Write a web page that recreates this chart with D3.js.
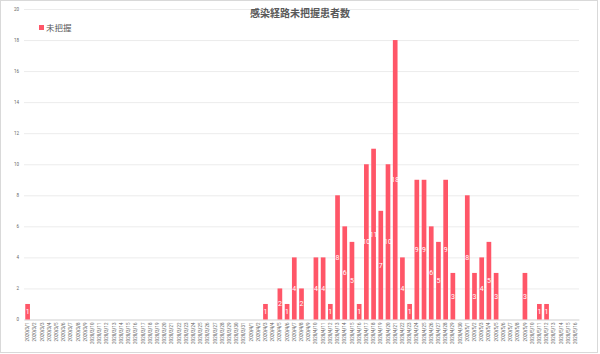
<!DOCTYPE html>
<html>
<head>
<meta charset="utf-8">
<script src="https://cdn.jsdelivr.net/npm/d3@7"></script>
<style>
  body { margin: 0; background: #fff; }
  text { font-family: "Noto Sans CJK JP", "Noto Sans", sans-serif; }
</style>
</head>
<body>
<div id="container"></div>
<script>
const title = "感染経路未把握患者数",
      seriesName = "未把握";

// dates 2020/3/1 .. 2020/5/16 (77 days)
const dates = [
  "2020/3/1","2020/3/2","2020/3/3","2020/3/4","2020/3/5","2020/3/6","2020/3/7","2020/3/8",
  "2020/3/9","2020/3/10","2020/3/11","2020/3/12","2020/3/13","2020/3/14","2020/3/15","2020/3/16",
  "2020/3/17","2020/3/18","2020/3/19","2020/3/20","2020/3/21","2020/3/22","2020/3/23","2020/3/24",
  "2020/3/25","2020/3/26","2020/3/27","2020/3/28","2020/3/29","2020/3/30","2020/3/31",
  "2020/4/1","2020/4/2","2020/4/3","2020/4/4","2020/4/5","2020/4/6","2020/4/7","2020/4/8",
  "2020/4/9","2020/4/10","2020/4/11","2020/4/12","2020/4/13","2020/4/14","2020/4/15","2020/4/16",
  "2020/4/17","2020/4/18","2020/4/19","2020/4/20","2020/4/21","2020/4/22","2020/4/23","2020/4/24",
  "2020/4/25","2020/4/26","2020/4/27","2020/4/28","2020/4/29","2020/4/30",
  "2020/5/1","2020/5/2","2020/5/3","2020/5/4","2020/5/5","2020/5/6","2020/5/7","2020/5/8",
  "2020/5/9","2020/5/10","2020/5/11","2020/5/12","2020/5/13","2020/5/14","2020/5/15","2020/5/16"
];

const counts = [
  1,0,0,0,0,0,0,0,0,0,
  0,0,0,0,0,0,0,0,0,0,
  0,0,0,0,0,0,0,0,0,0,
  0,0,0,1,0,2,1,4,2,0,
  4,4,1,8,6,5,1,10,11,7,
  10,18,4,1,9,9,6,5,9,3,
  0,8,3,4,5,3,0,0,0,3,
  0,1,1,0,0,0,0
];

const yTicks = [0,2,4,6,8,10,12,14,16,18,20];

const WIDTH = 600,
      HEIGHT = 354;

const margin = { top: 9, bottom: 34.5, left: 24, right: 21 };

const width = WIDTH - margin.left - margin.right,
      height = HEIGHT - margin.top - margin.bottom;

const svg = d3.select('#container').append('svg')
    .attr("width", WIDTH).attr("height", HEIGHT);

// chart frame
svg.append("rect")
    .attr("x", 0.5).attr("y", 0.5)
    .attr("width", WIDTH - 3).attr("height", HEIGHT - 2)
    .attr("fill", "#fff")
    .attr("stroke", "#d9d9d9");

const data = dates.map((d, i) => ({ date: d, value: counts[i] }));

const xScale = d3.scaleBand()
    .domain(dates)
    .range([0, width])
    .paddingInner(0.35)
    .paddingOuter(0.175);

const yScale = d3.scaleLinear()
    .domain([0, 20])
    .range([height, 0]);

const container = svg.append('g')
    .attr("transform", `translate(${margin.left}, ${margin.top})`);

// y axis + gridlines
const yAxis = d3.axisLeft(yScale).tickValues(yTicks).tickSize(-width).tickPadding(5);
const gy = container.append("g").call(yAxis);
gy.select(".domain").remove();
gy.selectAll("line").attr("stroke", "#ececec");
gy.selectAll("text")
    .attr("fill", "#666")
    .style("font-size", "4.5px")
    .style("font-family", "Roboto, sans-serif");

// x axis
const xAxis = d3.axisBottom(xScale).tickSize(0).tickPadding(3);
const gx = container.append("g")
    .attr("transform", `translate(0, ${height})`)
    .call(xAxis);
gx.select(".domain").attr("stroke", "#d9d9d9");
gx.selectAll("text")
    .attr("fill", "#666")
    .style("font-size", "4.5px")
    .style("font-family", "Roboto, sans-serif")
    .attr("text-anchor", "end")
    .attr("dy", "0.35em")
    .attr("transform", "translate(0, 3) rotate(-90)")
    .attr("x", 0).attr("y", 0);

// bars
const bars = data.filter(d => d.value > 0);

container.selectAll("rect.bar")
    .data(bars)
    .join("rect")
    .attr("class", "bar")
    .attr("x", d => xScale(d.date))
    .attr("width", xScale.bandwidth())
    .attr("y", d => yScale(d.value))
    .attr("height", d => height - yScale(d.value))
    .attr("fill", "#ff5668");

container.selectAll("text.lbl")
    .data(bars)
    .join("text")
    .attr("class", "lbl")
    .attr("x", d => xScale(d.date) + xScale.bandwidth() / 2)
    .attr("y", d => (yScale(d.value) + height) / 2)
    .attr("dy", "0.35em")
    .attr("text-anchor", "middle")
    .attr("fill", "#fff")
    .style("font-size", "7px")
    .style("font-family", "Roboto, sans-serif")
    .text(d => d.value);

// title
svg.append("text")
    .attr("x", 300).attr("y", 17)
    .attr("text-anchor", "middle")
    .attr("fill", "#595959")
    .style("font-size", "10px")
    .style("font-weight", "bold")
    .text(title);

// legend
svg.append("rect")
    .attr("x", 39).attr("y", 25)
    .attr("width", 5).attr("height", 5)
    .attr("fill", "#ff5668");

svg.append("text")
    .attr("x", 46).attr("y", 30.5)
    .attr("fill", "#595959")
    .style("font-size", "8.5px")
    .text(seriesName);
</script>
</body>
</html>
